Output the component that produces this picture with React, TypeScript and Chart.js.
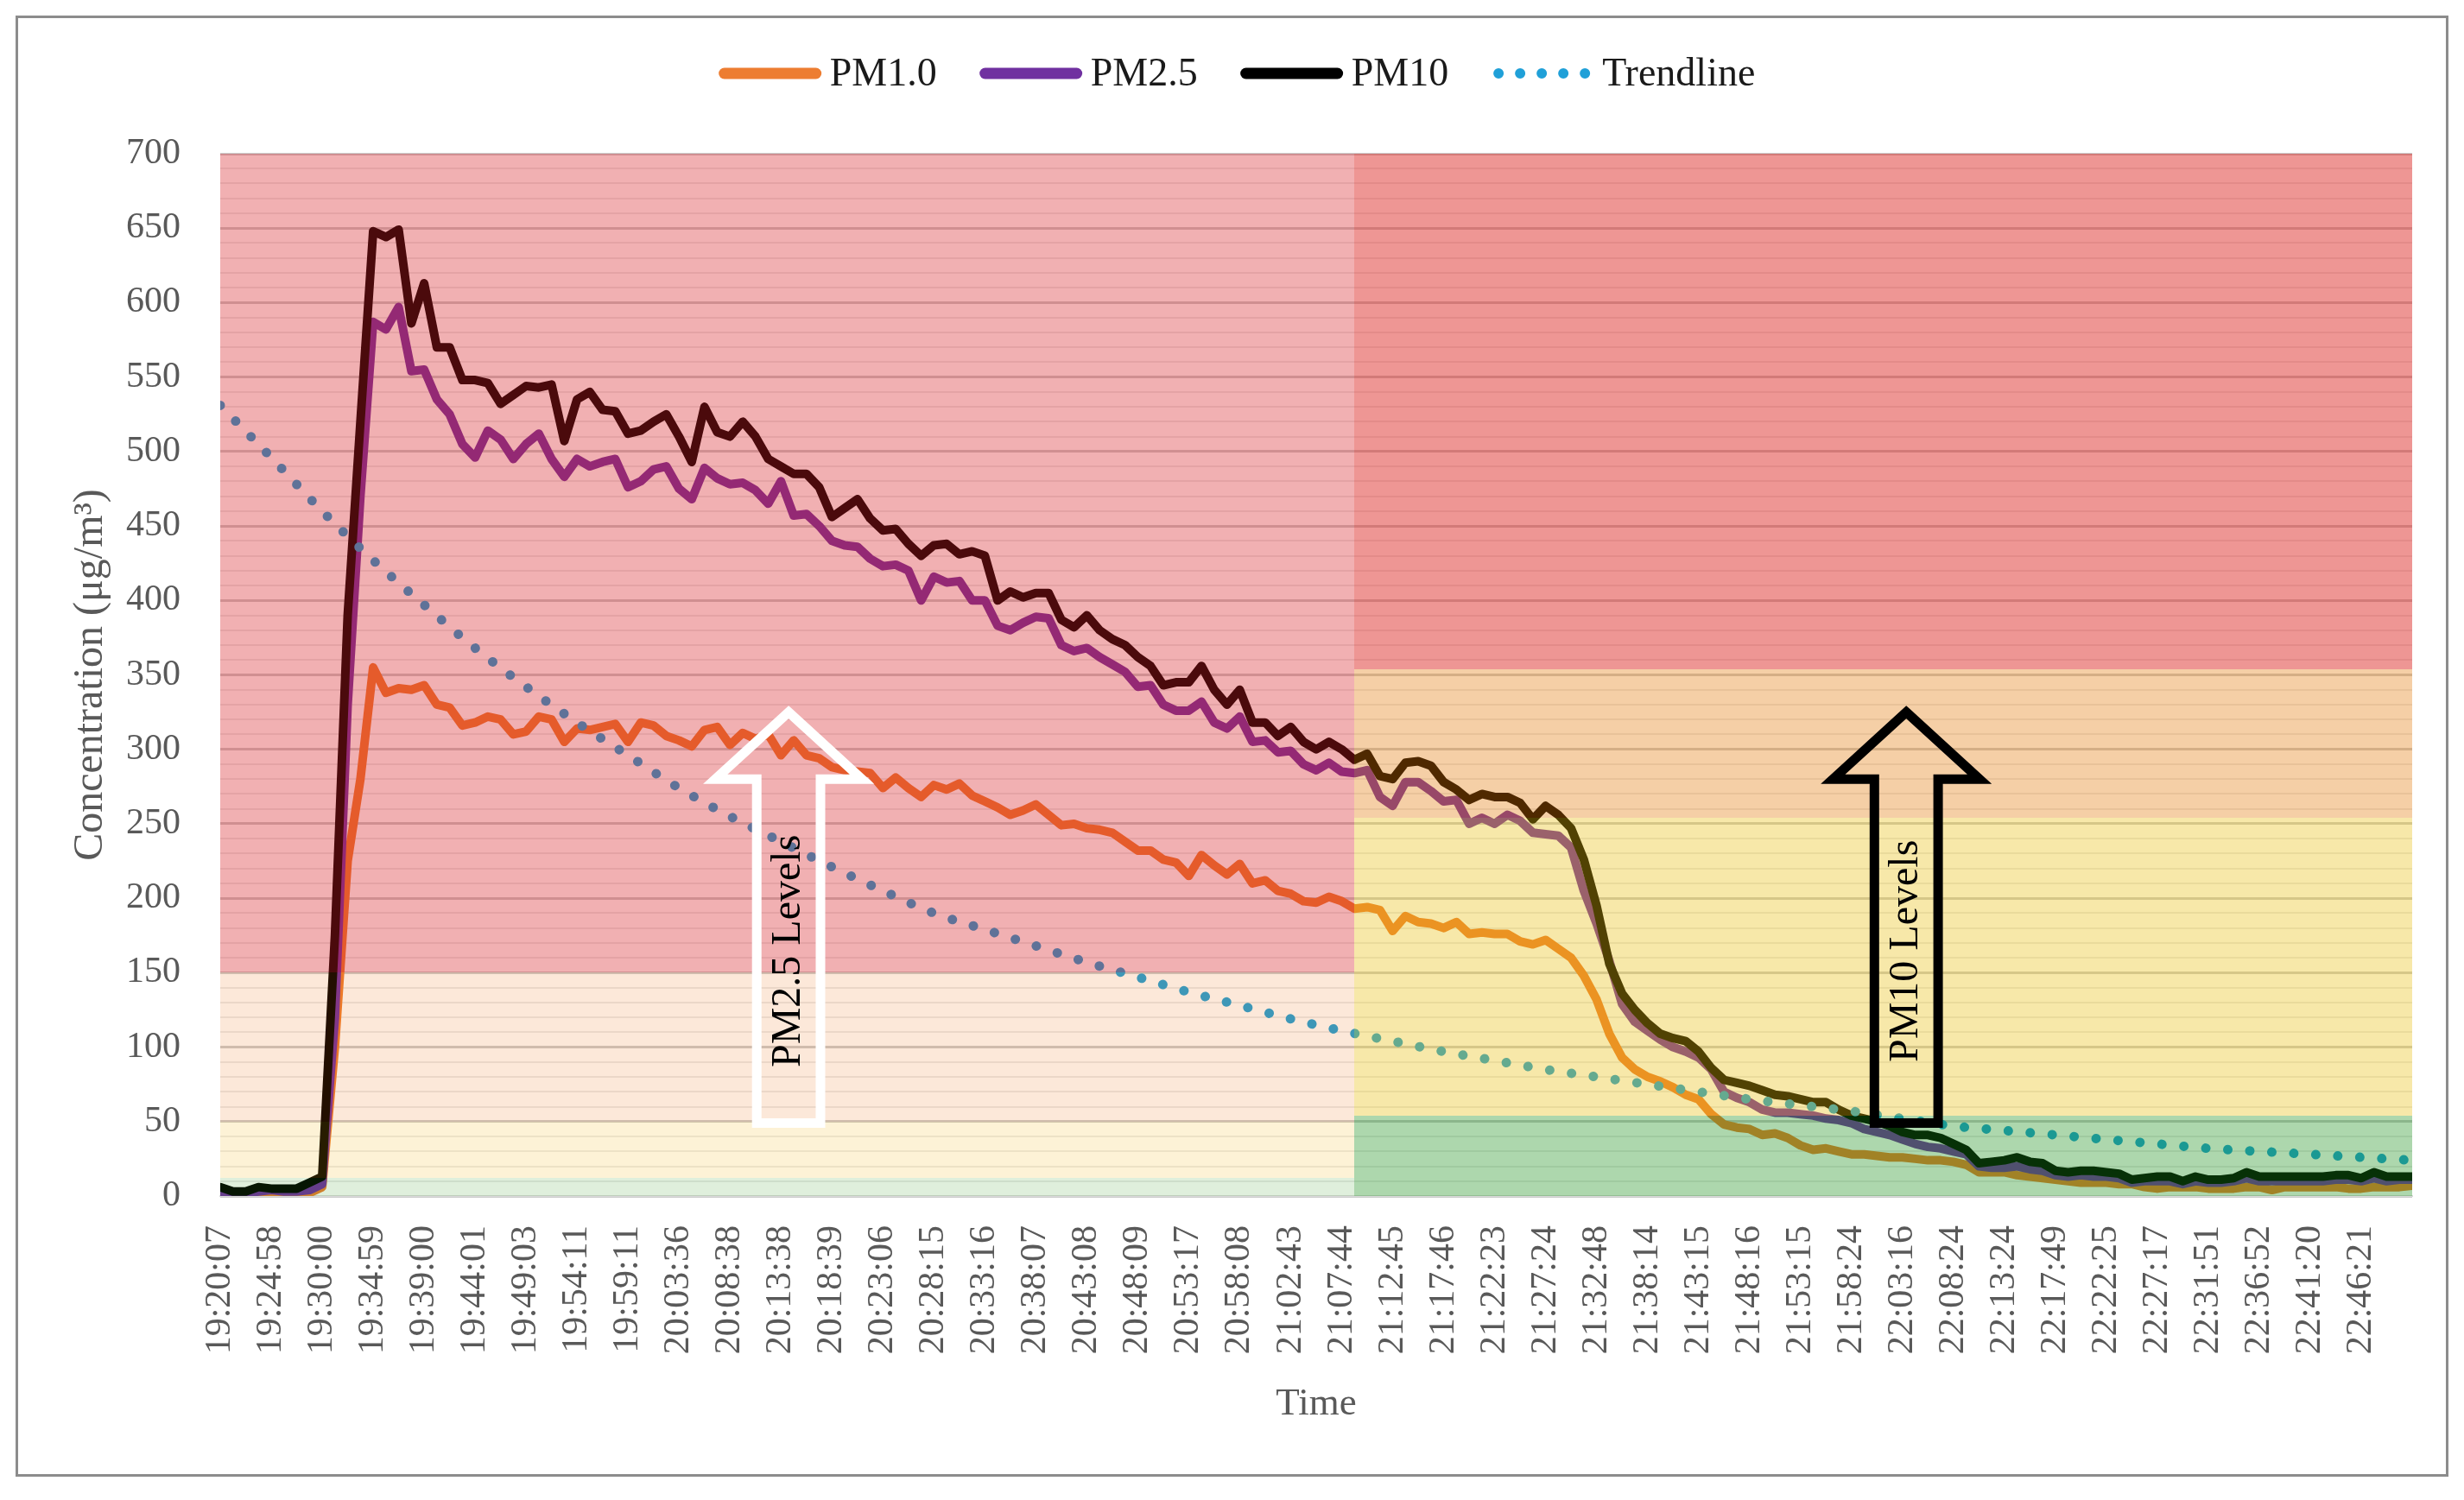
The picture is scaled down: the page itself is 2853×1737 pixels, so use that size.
import React, { useEffect, useRef } from "react";
import { Chart, registerables, ChartConfiguration, Plugin } from "chart.js";

Chart.register(...registerables);

// tick labels, one every 4 samples
const TIME_LABELS = [
  "19:20:07", "19:24:58", "19:30:00", "19:34:59", "19:39:00", "19:44:01", "19:49:03", "19:54:11",
  "19:59:11", "20:03:36", "20:08:38", "20:13:38", "20:18:39", "20:23:06", "20:28:15", "20:33:16",
  "20:38:07", "20:43:08", "20:48:09", "20:53:17", "20:58:08", "21:02:43", "21:07:44", "21:12:45",
  "21:17:46", "21:22:23", "21:27:24", "21:32:48", "21:38:14", "21:43:15", "21:48:16", "21:53:15",
  "21:58:24", "22:03:16", "22:08:24", "22:13:24", "22:17:49", "22:22:25", "22:27:17", "22:31:51",
  "22:36:52", "22:41:20", "22:46:21",
];
const LABEL_EVERY = 4;
const LAST_INDEX = 172;

const PM1 = [
  1, 1, 1, 2, 2, 1, 2, 2, 6, 100,
  225, 280, 355, 338, 341, 340, 343, 330, 328, 316,
  318, 322, 320, 310, 312, 322, 320, 305, 314, 313,
  315, 317, 305, 318, 316, 309, 306, 302, 313, 315,
  303, 311, 307, 310, 296, 306, 296, 294, 288, 286,
  285, 284, 274, 281, 274, 268, 276, 273, 277, 269,
  265, 261, 256, 259, 263, 256, 249, 250, 247, 246,
  244, 238, 232, 232, 226, 224, 215, 229, 222, 216,
  223, 210, 212, 205, 203, 198, 197, 201, 198, 193,
  194, 192, 178, 188, 184, 183, 180, 184, 176, 177,
  176, 176, 171, 169, 172, 166, 160, 148, 132, 109,
  93, 85, 80, 77, 73, 68, 65, 55, 48, 46,
  45, 41, 42, 39, 34, 31, 32, 30, 28, 28,
  27, 26, 26, 25, 24, 24, 23, 21, 16, 16,
  16, 14, 13, 12, 11, 10, 9, 9, 9, 8,
  8, 6, 5, 6, 6, 6, 5, 5, 5, 6,
  6, 4, 6, 6, 6, 6, 6, 5, 5, 6,
  6, 6, 7,
];

const PM25 = [
  2, 1, 2, 3, 4, 3, 3, 4, 8, 120,
  330, 470, 587, 582, 597, 554, 555, 535, 525, 505,
  496, 514, 508, 495, 505, 512, 495, 483, 495, 490,
  493, 495, 476, 480, 488, 490, 475, 468, 489, 482,
  478, 479, 474, 465, 480, 457, 458, 450, 440, 437,
  436, 428, 423, 424, 420, 400, 416, 412, 413, 400,
  400, 383, 380, 385, 389, 388, 370, 366, 368, 362,
  357, 352, 342, 343, 330, 326, 326, 332, 318, 314,
  322, 305, 306, 298, 299, 290, 286, 291, 285, 284,
  286, 268, 262, 278, 278, 272, 265, 266, 250, 254,
  250, 256, 252, 244, 243, 242, 234, 205, 183, 158,
  129, 117, 111, 105, 100, 97, 93, 85, 70, 66,
  63, 58, 56, 56, 55, 54, 52, 51, 49, 45,
  43, 41, 38, 35, 33, 32, 30, 28, 20, 19,
  19, 20, 18, 17, 14, 13, 14, 13, 13, 12,
  9, 10, 10, 10, 8, 10, 9, 9, 10, 12,
  10, 10, 10, 10, 10, 10, 11, 11, 10, 12,
  10, 11, 11,
];

const PM10 = [
  6, 3, 3, 6, 5, 5, 5, 9, 13, 175,
  390, 520, 648, 644, 649, 586, 613, 570, 570, 548,
  548, 546, 532, 538, 544, 543, 545, 507, 535, 540,
  528, 527, 512, 514, 520, 525, 510, 493, 530, 513,
  510, 520, 510, 495, 490, 485, 485, 476, 456, 462,
  468, 455, 447, 448, 438, 430, 437, 438, 431, 433,
  430, 400, 406, 402, 405, 405, 387, 382, 390, 380,
  374, 370, 362, 356, 343, 345, 345, 356, 340, 330,
  340, 318, 318, 309, 315, 305, 300, 305, 300, 293,
  297, 282, 280, 291, 292, 289, 278, 273, 266, 270,
  268, 268, 264, 253, 262, 256, 247, 226, 195, 156,
  136, 125, 116, 109, 106, 104, 97, 86, 78, 76,
  74, 71, 68, 67, 65, 63, 63, 58, 54, 52,
  50, 47, 43, 41, 41, 39, 35, 31, 22, 23,
  24, 26, 23, 22, 17, 16, 17, 17, 16, 15,
  11, 12, 13, 13, 10, 13, 11, 11, 12, 16,
  13, 13, 13, 13, 13, 13, 14, 14, 12, 16,
  13, 13, 13,
];

// trendline read at every tick position
const TREND_X = [
  0, 4, 8, 12, 16, 20, 24, 28, 32, 36, 40, 44, 48, 52, 56, 60, 64, 68, 72, 76, 80, 84,
  88, 92, 96, 100, 104, 108, 112, 116, 120, 124, 128, 132, 136, 140, 144, 148, 152, 156,
  160, 164, 168, 172,
];
const TREND = [
  531, 496, 460, 427, 397, 368, 342, 318, 296, 274, 255, 238, 221, 205, 190, 179, 168, 157,
  147, 137, 128, 119, 111, 104, 97, 91, 85, 80, 75, 70, 65, 61, 57, 52, 47, 44, 41, 38,
  35, 32, 30, 28, 26, 24,
];

// air quality bands: PM2.5 scale on the left part, PM10 scale on the right
const PM25_LIMITS = [0, 12, 50, 150, 700];
const PM10_LIMITS = [0, 54, 254, 354, 700];
const SPLIT_AT = 89;
const LEFT_FILLS = [
  "rgba(40,150,20,0.15)",
  "rgba(240,175,0,0.16)",
  "rgba(235,100,0,0.15)",
  "rgba(214,29,34,0.35)",
];
const RIGHT_FILLS = [
  "rgba(20,140,20,0.35)",
  "rgba(231,190,10,0.35)",
  "rgba(226,117,0,0.35)",
  "rgba(218,22,18,0.45)",
];

const ARROWS = [
  { text: "PM2.5 Levels", at: 44.6, stroke: "#FFFFFF" },
  { text: "PM10 Levels", at: 132.3, stroke: "#000000" },
];
const ARROW_TIP = 325;
const ARROW_NECK = 280;
const ARROW_FOOT = 49;

const SERIF = '"Liberation Serif", "DejaVu Serif", serif';
const GREY = "#595959";

const LEGEND = [
  { text: "PM1.0", color: "#ED7D31", dotted: false },
  { text: "PM2.5", color: "#7030A0", dotted: false },
  { text: "PM10", color: "#000000", dotted: false },
  { text: "Trendline", color: "#20A0D8", dotted: true },
];

const bandPlugin: Plugin<"line"> = {
  id: "bands",
  afterDatasetsDraw(chart) {
    const { ctx, chartArea: a, scales } = chart;
    const y = scales.y;
    const xs = Math.round(scales.x.getPixelForValue(SPLIT_AT));
    ctx.save();
    ctx.beginPath();
    ctx.rect(a.left, a.top, a.width, a.height);
    ctx.clip();
    const side = (limits: number[], fills: string[], x0: number, x1: number) => {
      fills.forEach((f, k) => {
        const top = Math.round(y.getPixelForValue(limits[k + 1]));
        const bot = Math.round(y.getPixelForValue(limits[k]));
        ctx.fillStyle = f;
        ctx.fillRect(x0, top, x1 - x0, bot - top);
      });
    };
    side(PM25_LIMITS, LEFT_FILLS, a.left, xs);
    side(PM10_LIMITS, RIGHT_FILLS, xs, a.right);
    ctx.restore();
  },
};

const arrowPlugin: Plugin<"line"> = {
  id: "arrows",
  afterDraw(chart) {
    const { ctx, scales } = chart;
    const x = scales.x;
    const y = scales.y;
    const unit = x.getPixelForValue(1) - x.getPixelForValue(0);
    ARROWS.forEach((ar) => {
      const cx = x.getPixelForValue(ar.at);
      const hh = 5.75 * unit;
      const sh = 2.5 * unit;
      const tip = y.getPixelForValue(ARROW_TIP);
      const neck = y.getPixelForValue(ARROW_NECK);
      const foot = y.getPixelForValue(ARROW_FOOT);
      ctx.save();
      ctx.beginPath();
      ctx.moveTo(cx, tip);
      ctx.lineTo(cx + hh, neck);
      ctx.lineTo(cx + sh, neck);
      ctx.lineTo(cx + sh, foot);
      ctx.lineTo(cx - sh, foot);
      ctx.lineTo(cx - sh, neck);
      ctx.lineTo(cx - hh, neck);
      ctx.closePath();
      ctx.lineJoin = "miter";
      ctx.lineWidth = 11;
      ctx.strokeStyle = ar.stroke;
      ctx.stroke();
      ctx.translate(cx, (neck + foot) / 2);
      ctx.rotate(-Math.PI / 2);
      ctx.fillStyle = "#000000";
      ctx.font = `48px ${SERIF}`;
      ctx.textAlign = "center";
      ctx.textBaseline = "middle";
      ctx.fillText(ar.text, 0, 0);
      ctx.restore();
    });
  },
};

const legendPlugin: Plugin<"line"> = {
  id: "topLegend",
  afterDraw(chart) {
    const { ctx } = chart;
    const swatch = 118;
    const gap = 10;
    const spacing = 50;
    ctx.save();
    ctx.font = `46px ${SERIF}`;
    const widths = LEGEND.map((it) => swatch + gap + ctx.measureText(it.text).width);
    const total = widths.reduce((s, w) => s + w, 0) + spacing * (LEGEND.length - 1);
    let cx = chart.width / 2 + 6 - total / 2;
    const cy = 64;
    LEGEND.forEach((it, k) => {
      ctx.beginPath();
      ctx.strokeStyle = it.color;
      ctx.lineCap = "round";
      if (it.dotted) {
        ctx.lineWidth = 12;
        ctx.setLineDash([0.01, 25]);
        ctx.moveTo(cx + 8, cy);
        ctx.lineTo(cx + swatch - 6, cy);
      } else {
        ctx.lineWidth = 13;
        ctx.setLineDash([]);
        ctx.moveTo(cx + 6, cy);
        ctx.lineTo(cx + swatch - 6, cy);
      }
      ctx.stroke();
      ctx.setLineDash([]);
      ctx.fillStyle = "#1A1A1A";
      ctx.textAlign = "left";
      ctx.textBaseline = "middle";
      ctx.fillText(it.text, cx + swatch + gap, cy + 2);
      cx += widths[k] + spacing;
    });
    ctx.restore();
  },
};

const toPoints = (vals: number[]) => vals.map((v, i) => ({ x: i, y: v }));

const PMChart: React.FC = () => {
  const canvasRef = useRef<HTMLCanvasElement | null>(null);

  useEffect(() => {
    if (!canvasRef.current) return;
    const tickFont = { family: SERIF, size: 42 };
    const yTicks: number[] = [];
    for (let v = 0; v <= 700; v += 10) yTicks.push(v);

    const line = (label: string, data: number[], color: string, order: number) => ({
      label,
      data: toPoints(data),
      borderColor: color,
      backgroundColor: color,
      borderWidth: 10,
      pointRadius: 0,
      tension: 0,
      fill: false,
      borderJoinStyle: "round" as const,
      borderCapStyle: "round" as const,
      order,
    });

    const config: ChartConfiguration<"line"> = {
      type: "line",
      data: {
        datasets: [
          line("PM1.0", PM1, "#ED7D31", 3),
          line("PM2.5", PM25, "#7030A0", 2),
          line("PM10", PM10, "#000000", 1),
          {
            label: "Trendline",
            data: TREND_X.map((x, k) => ({ x, y: TREND[k] })),
            borderColor: "#20A0D8",
            backgroundColor: "#20A0D8",
            borderWidth: 11,
            borderDash: [0.01, 25.5],
            borderCapStyle: "round",
            pointRadius: 0,
            cubicInterpolationMode: "monotone",
            fill: false,
            order: 0,
          },
        ],
      },
      options: {
        responsive: false,
        animation: false,
        devicePixelRatio: 1,
        layout: { padding: { top: 157, right: 39, bottom: 0, left: 0 } },
        plugins: {
          legend: { display: false },
          tooltip: { enabled: false },
        },
        scales: {
          x: {
            type: "linear",
            min: 0,
            max: LAST_INDEX,
            afterBuildTicks: (s) => {
              s.ticks = TIME_LABELS.map((_, k) => ({ value: k * LABEL_EVERY }));
            },
            afterFit: (s) => {
              s.height = 322;
            },
            ticks: {
              autoSkip: false,
              minRotation: 90,
              maxRotation: 90,
              padding: 34,
              color: GREY,
              font: tickFont,
              callback: (v) => TIME_LABELS[Math.round(Number(v) / LABEL_EVERY)] ?? "",
            },
            grid: { display: false, drawTicks: false },
            border: { display: true, color: "#D9D9D9", width: 2 },
            title: {
              display: true,
              text: "Time",
              color: GREY,
              font: { family: SERIF, size: 45 },
              padding: { top: 0, bottom: 54 },
            },
          },
          y: {
            min: 0,
            max: 700,
            afterBuildTicks: (s) => {
              s.ticks = yTicks.map((v) => ({ value: v }));
            },
            afterFit: (s) => {
              s.width = 234;
            },
            ticks: {
              autoSkip: false,
              padding: 46,
              color: GREY,
              font: tickFont,
              callback: (v) => (Number(v) % 50 === 0 ? String(v) : ""),
            },
            grid: {
              drawTicks: false,
              color: (c) => (c.tick && c.tick.value % 50 === 0 ? "#CCCCCC" : "#ECECEC"),
              lineWidth: (c) => (c.tick && c.tick.value % 50 === 0 ? 3 : 2),
            },
            border: { display: false },
            title: {
              display: true,
              text: "Concentration (μg/m³)",
              color: GREY,
              font: { family: SERIF, size: 48 },
              padding: { top: 56, bottom: 0 },
            },
          },
        },
      },
      plugins: [bandPlugin, arrowPlugin, legendPlugin],
    };

    const chart = new Chart(canvasRef.current, config);
    return () => {
      chart.destroy();
    };
  }, []);

  return (
    <div style={{ padding: "10px" }}>
      <div
        style={{
          width: 2817,
          height: 1692,
          boxSizing: "border-box",
          border: "3px solid #8C8C8C",
          background: "#FFFFFF",
        }}
      >
        <canvas ref={canvasRef} width={2811} height={1686} style={{ display: "block" }} />
      </div>
    </div>
  );
};

export default function App() {
  return <PMChart />;
}
